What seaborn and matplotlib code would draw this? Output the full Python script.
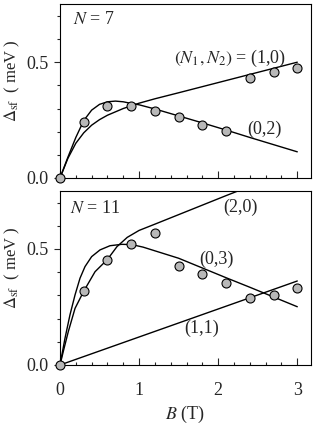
import matplotlib
matplotlib.use("Agg")
import matplotlib.pyplot as plt
from matplotlib.ticker import MultipleLocator
import seaborn as sns

# measured points (both panels share the same fields)
b_meas = [0, 0.3, 0.6, 0.9, 1.2, 1.5, 1.8, 2.1, 2.4, 2.7, 3.0]
d_n7 = [0, 0.243, 0.310, 0.310, 0.290, 0.262, 0.230, 0.201, 0.432, 0.457, 0.477]
d_n11 = [0, 0.318, 0.454, 0.523, 0.570, 0.427, 0.391, 0.353, 0.289, 0.300, 0.331]

# calculated curves
# N = 7
b_10 = [0, 0.1, 0.2, 0.3, 0.4, 0.5, 0.6, 0.8, 1.0, 1.2, 1.5, 2.0, 2.5, 3.0]
d_10 = [0, 0.085, 0.150, 0.195, 0.228, 0.252, 0.271, 0.300, 0.323, 0.342, 0.368, 0.412, 0.456, 0.500]
b_02 = [0, 0.1, 0.2, 0.3, 0.4, 0.5, 0.6, 0.7, 0.8, 0.9, 1.0, 1.2, 1.5, 1.8, 2.1, 2.4, 2.7, 3.0]
d_02 = [0, 0.090, 0.175, 0.248, 0.293, 0.318, 0.329, 0.332, 0.329, 0.322, 0.316, 0.298, 0.268, 0.238, 0.207, 0.175, 0.144, 0.113]
# N = 11
b_20 = [0, 0.05, 0.105, 0.19, 0.3, 0.443, 0.6, 0.72, 0.85, 1.0, 1.2, 1.5, 1.8, 2.1, 2.4]
d_20 = [0, 0.070, 0.144, 0.244, 0.318, 0.402, 0.455, 0.510, 0.550, 0.580, 0.607, 0.648, 0.689, 0.730, 0.770]
b_03 = [0, 0.063, 0.126, 0.19, 0.253, 0.316, 0.40, 0.506, 0.632, 0.78, 0.906, 1.05, 1.2, 1.5, 1.8, 2.1, 2.4, 2.7, 3.0]
d_03 = [0, 0.115, 0.216, 0.302, 0.374, 0.424, 0.467, 0.496, 0.514, 0.520, 0.519, 0.508, 0.492, 0.460, 0.418, 0.376, 0.335, 0.293, 0.251]
b_11 = [0, 3.0]
d_11 = [0, 0.362]

sns.set_theme(style="ticks")
plt.rcParams['font.family'] = ['Liberation Serif', 'DejaVu Serif']
plt.rcParams['mathtext.fontset'] = 'stix'
fs = 13

fig, axs = plt.subplots(2, 1, figsize=(3.19, 4.24), dpi=100)
axs[0].set_position([0.1881, 0.5802, 0.786, 0.4097])
axs[1].set_position([0.1881, 0.1392, 0.786, 0.4104])

panels = [
    (d_n7, [(b_10, d_10), (b_02, d_02)]),
    (d_n11, [(b_20, d_20), (b_03, d_03), (b_11, d_11)]),
]
for ax, (pts, curves) in zip(axs, panels):
    for bx, dy in curves:
        sns.lineplot(x=bx, y=dy, ax=ax, color='black', lw=1.0, sort=False, estimator=None)
    sns.scatterplot(x=b_meas, y=pts, ax=ax, s=42, color='#b8b8b8', edgecolor='black',
                    linewidth=0.8, zorder=5, clip_on=False)
    ax.set_xlim(0, 3.17)
    ax.set_ylim(0, 0.75)
    ax.xaxis.set_major_locator(MultipleLocator(1))
    ax.xaxis.set_minor_locator(MultipleLocator(0.2))
    ax.set_yticks([0, 0.5])
    ax.set_yticklabels(['0.0', '0.5'])
    ax.yaxis.set_minor_locator(MultipleLocator(0.1))
    ax.tick_params(axis='y', which='major', direction='out', length=4.5, width=0.8, pad=4, labelsize=fs)
    ax.tick_params(axis='y', which='minor', direction='out', length=2.5, width=0.8)
    ax.tick_params(axis='x', which='major', direction='in', length=5, width=0.8, pad=12, labelsize=fs)
    ax.tick_params(axis='x', which='minor', direction='in', length=2.5, width=0.8)
    for sp in ax.spines.values():
        sp.set_visible(True)
        sp.set_linewidth(0.8)
        sp.set_color('black')
    ax.set_ylabel(r"$\Delta_{\rm sf}$  ( meV )", fontsize=12)
    ax.yaxis.set_label_coords(-0.15, 0.56)

axs[0].set_xticklabels([])
axs[0].set_xlabel('')
axs[1].set_xlabel(r"$B$ (T)", fontsize=fs, labelpad=4)

axs[0].text(0.05, 0.91, r"$N$ = 7", transform=axs[0].transAxes, fontsize=fs, va='center')
axs[0].text(0.68, 0.69, r"$(N_1, N_2)$ = (1,0)", transform=axs[0].transAxes, fontsize=fs, ha='center', va='center')
axs[0].text(0.814, 0.28, "(0,2)", transform=axs[0].transAxes, fontsize=fs, ha='center', va='center')
axs[1].text(0.04, 0.9, r"$N$ = 11", transform=axs[1].transAxes, fontsize=fs, va='center')
axs[1].text(0.72, 0.905, "(2,0)", transform=axs[1].transAxes, fontsize=fs, ha='center', va='center')
axs[1].text(0.623, 0.605, "(0,3)", transform=axs[1].transAxes, fontsize=fs, ha='center', va='center')
axs[1].text(0.566, 0.21, "(1,1)", transform=axs[1].transAxes, fontsize=fs, ha='center', va='center')

fig.savefig("out.png", dpi=100)
